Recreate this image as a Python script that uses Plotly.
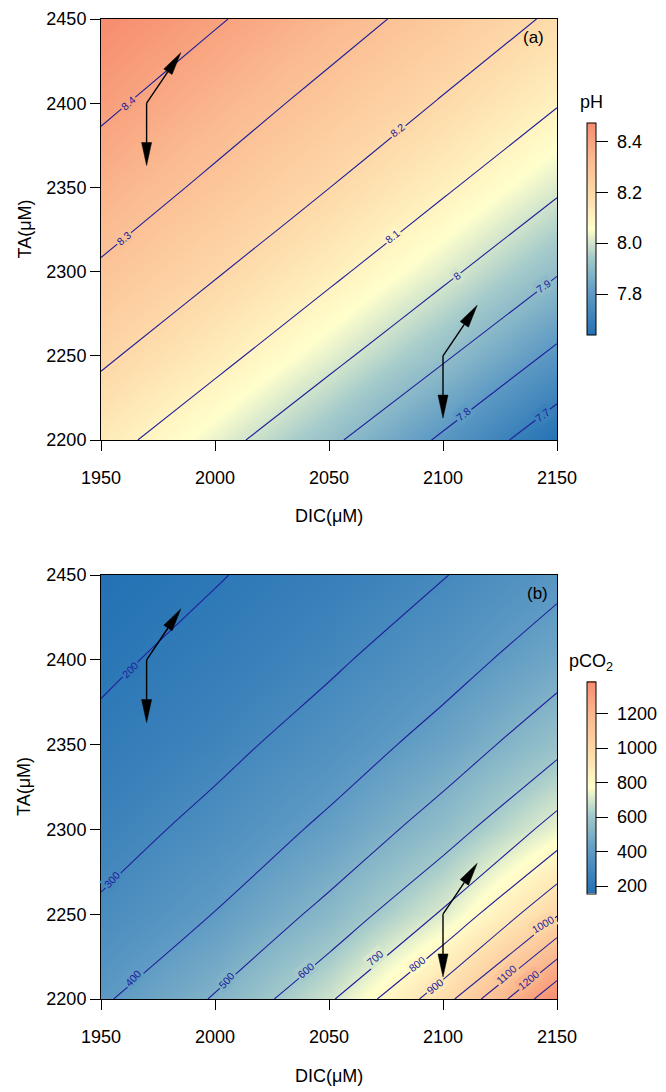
import math
import plotly.graph_objects as go

# ---------------- data ----------------
dic = [1950, 2000, 2050, 2100, 2150]
ta = [2200, 2250, 2300, 2350, 2400, 2450]

# pH, one row per TA value (rows follow `ta`, columns follow `dic`)
ph = [
    [8.133, 8.031, 7.917, 7.787, 7.638],
    [8.215, 8.126, 8.025, 7.912, 7.782],
    [8.289, 8.208, 8.119, 8.019, 7.907],
    [8.355, 8.281, 8.201, 8.112, 8.013],
    [8.417, 8.346, 8.272, 8.193, 8.105],
    [8.473, 8.408, 8.338, 8.264, 8.186],
]

# pCO2, one row per TA value
pco2 = [
    [386.5, 507.5, 685.3, 955.7, 1385.7],
    [313.7, 402.7, 528.7, 711.2, 990.7],
    [261.0, 328.6, 420.4, 549.7, 737.0],
    [218.7, 273.1, 343.3, 437.9, 570.5],
    [184.3, 230.3, 284.9, 357.8, 455.3],
    [157.5, 194.3, 241.6, 296.2, 371.9],
]

ph_levels = [7.7, 7.8, 7.9, 8.0, 8.1, 8.2, 8.3, 8.4]
pco2_levels = [200, 300, 400, 500, 600, 700, 800, 900, 1000, 1100, 1200, 1300]

# contour label positions along the DIC axis (level -> DIC of label centre)
ph_label_dic = {8.4: 1962, 8.3: 1960, 8.2: 2080, 8.1: 2078, 8.0: 2106,
                7.9: 2144, 7.8: 2109, 7.7: 2143.5}
pco2_label_dic = {200: 1962.5, 300: 1955, 400: 1964, 500: 2005, 600: 2040,
                  700: 2070, 800: 2088.5, 900: 2096.5, 1000: 2144,
                  1100: 2128, 1200: 2137.5}

x_ticks = [1950, 2000, 2050, 2100, 2150]
y_ticks = [2200, 2250, 2300, 2350, 2400, 2450]
ph_cb_ticks = [7.8, 8.0, 8.2, 8.4]
ph_cb_text = ["7.8", "8.0", "8.2", "8.4"]
pco2_cb_ticks = [200, 400, 600, 800, 1000, 1200]
pco2_cb_text = ["200", "400", "600", "800", "1000", "1200"]

# arrows: (start DIC, start TA, end DIC, end TA)
arrows = [
    (1970, 2400, 1970, 2363),
    (1970, 2400, 1985, 2430),
    (2100, 2250, 2100, 2213),
    (2100, 2250, 2115, 2280),
]

# ---------------- layout geometry ----------------
# the page body adds an 8 px margin, so the figure is placed at (8, 8)
OFF = 8
W, H = 666 - OFF, 1092 - OFF
PX_L, PX_R = 101 - OFF, 557 - OFF
A_TOP, A_BOT = 19 - OFF, 440 - OFF
B_TOP, B_BOT = 575 - OFF, 999 - OFF
CB_X = 586.7
CB_LABEL_X = 615
FONT = "Liberation Sans, Arial, Helvetica, sans-serif"
LINE_COL = "#20209a"

cs_stops = [
    (0.0, (35, 113, 180)),
    (0.2, (95, 155, 196)),
    (0.37, (165, 203, 203)),
    (0.5, (255, 255, 204)),
    (0.65, (254, 221, 172)),
    (0.82, (251, 188, 146)),
    (1.0, (246, 140, 110)),
]
colorscale = [[p, "rgb(%d,%d,%d)" % c] for p, c in cs_stops]


def cs_color(t):
    t = min(1.0, max(0.0, t))
    for (p0, c0), (p1, c1) in zip(cs_stops[:-1], cs_stops[1:]):
        if p0 <= t <= p1:
            f = (t - p0) / (p1 - p0)
            return "rgb(%d,%d,%d)" % tuple(round(a + (b - a) * f) for a, b in zip(c0, c1))
    return "rgb(%d,%d,%d)" % cs_stops[-1][1]


def bilin(z, D, T):
    i = max(0, min(len(dic) - 2, sum(1 for d in dic if d <= D) - 1))
    j = max(0, min(len(ta) - 2, sum(1 for t in ta if t <= T) - 1))
    fx = (D - dic[i]) / (dic[i + 1] - dic[i])
    fy = (T - ta[j]) / (ta[j + 1] - ta[j])
    return ((1 - fx) * (1 - fy) * z[j][i] + fx * (1 - fy) * z[j][i + 1]
            + (1 - fx) * fy * z[j + 1][i] + fx * fy * z[j + 1][i + 1])


def find_ta(z, D, level):
    lo, hi = ta[0], ta[-1]
    flo = bilin(z, D, lo) - level
    for _ in range(60):
        mid = (lo + hi) / 2
        fm = bilin(z, D, mid) - level
        if (fm > 0) == (flo > 0):
            lo, flo = mid, fm
        else:
            hi = mid
    return (lo + hi) / 2


def ann(text, x, y, size=18, angle=0, xanchor="center"):
    # x, y are window pixel positions
    return dict(text=text, x=(x - OFF) / W, y=1 - (y - OFF) / H,
                xref="paper", yref="paper",
                showarrow=False, textangle=angle, xanchor=xanchor, yanchor="middle",
                font=dict(family=FONT, size=size, color="black"))


fig = go.Figure()
annotations = []


def cbar(top, bot, tickvals):
    return dict(
        x=(CB_X - OFF) / W, xanchor="left", xpad=0,
        y=1 - ((top + bot) / 2 - OFF) / H, yanchor="middle", ypad=0,
        len=bot - top, lenmode="pixels",
        thickness=9, thicknessmode="pixels",
        outlinewidth=1, outlinecolor="black",
        ticks="outside", ticklen=12, tickwidth=1, tickcolor="black",
        showticklabels=False, tickvals=tickvals,
    )


panels = [
    dict(z=ph, levels=ph_levels, labels=ph_label_dic, xa="x", ya="y",
         top=A_TOP, bot=A_BOT, cbt=123.3, cbb=335,
         cbv=ph_cb_ticks, cbtxt=ph_cb_text),
    dict(z=pco2, levels=pco2_levels, labels=pco2_label_dic, xa="x2", ya="y2",
         top=B_TOP, bot=B_BOT, cbt=681.7, cbb=893.3,
         cbv=pco2_cb_ticks, cbtxt=pco2_cb_text),
]

sx = (PX_R - PX_L) / (x_ticks[-1] - x_ticks[0])
HEAD_LEN, HEAD_HALF = 23, 5

for p in panels:
    z = p["z"]
    zmin = min(min(r) for r in z)
    zmax = max(max(r) for r in z)
    lv = p["levels"]
    fig.add_trace(go.Heatmap(
        x=dic, y=ta, z=z, zsmooth="best", colorscale=colorscale,
        zmin=zmin, zmax=zmax, colorbar=cbar(p["cbt"], p["cbb"], p["cbv"]),
        xaxis=p["xa"], yaxis=p["ya"], hoverinfo="skip"))
    fig.add_trace(go.Contour(
        x=dic, y=ta, z=z, showscale=False, hoverinfo="skip",
        contours=dict(start=lv[0], end=lv[-1], size=lv[1] - lv[0],
                      coloring="none", showlabels=False),
        line=dict(color=LINE_COL, width=1.1),
        xaxis=p["xa"], yaxis=p["ya"]))

    # colour bar tick labels
    for v, t in zip(p["cbv"], p["cbtxt"]):
        ypx = p["cbb"] - (v - zmin) / (zmax - zmin) * (p["cbb"] - p["cbt"])
        annotations.append(ann(t, CB_LABEL_X, ypx, 18, 0, "left"))

    sy = (p["bot"] - p["top"]) / (y_ticks[-1] - y_ticks[0])
    # contour labels, drawn on the line with a background of the level's colour
    for level, D in p["labels"].items():
        T = find_ta(z, D, level)
        gd = bilin(z, D + 0.5, T) - bilin(z, D - 0.5, T)
        gt = bilin(z, D, T + 0.5) - bilin(z, D, T - 0.5)
        tdx, tdy = gt * sx, -gd * sy
        angle = -math.degrees(math.atan(tdy / tdx))
        annotations.append(dict(
            text="%g" % level, x=D, y=T, xref=p["xa"], yref=p["ya"],
            showarrow=False, textangle=angle,
            bgcolor=cs_color((level - zmin) / (zmax - zmin)),
            borderpad=1, xanchor="center", yanchor="middle",
            font=dict(family=FONT, size=10.5, color=LINE_COL)))

    # arrows
    for (x0, y0, x1, y1) in arrows:
        dx, dy = (x1 - x0) * sx, (y1 - y0) * sy
        L = math.hypot(dx, dy)
        ux, uy = dx / L, dy / L
        bx, by = x1 * sx - ux * HEAD_LEN, y1 * sy - uy * HEAD_LEN
        fig.add_trace(go.Scatter(
            x=[x0, bx / sx], y=[y0, by / sy], mode="lines",
            line=dict(color="black", width=1.4),
            xaxis=p["xa"], yaxis=p["ya"], hoverinfo="skip", showlegend=False))
        hx = [x1, (bx - uy * HEAD_HALF) / sx, (bx + uy * HEAD_HALF) / sx, x1]
        hy = [y1, (by + ux * HEAD_HALF) / sy, (by - ux * HEAD_HALF) / sy, y1]
        fig.add_trace(go.Scatter(
            x=hx, y=hy, mode="lines", fill="toself", fillcolor="black",
            line=dict(color="black", width=0.5),
            xaxis=p["xa"], yaxis=p["ya"], hoverinfo="skip", showlegend=False))


def xaxis(anchor):
    return dict(domain=[PX_L / W, PX_R / W], range=[x_ticks[0], x_ticks[-1]],
                anchor=anchor, tickvals=x_ticks, ticks="outside", ticklen=10,
                tickwidth=1, tickcolor="black", showline=True, mirror=True,
                linecolor="black", linewidth=1, showgrid=False, zeroline=False,
                automargin=False, ticklabelstandoff=11,
                tickfont=dict(family=FONT, size=18, color="black"))


def yaxis(anchor, top, bot):
    return dict(domain=[1 - bot / H, 1 - top / H], range=[y_ticks[0], y_ticks[-1]],
                anchor=anchor, tickvals=y_ticks, ticks="outside", ticklen=10,
                tickwidth=1, tickcolor="black", showline=True, mirror=True,
                linecolor="black", linewidth=1, showgrid=False, zeroline=False,
                automargin=False,
                tickfont=dict(family=FONT, size=18, color="black"))


annotations += [
    ann("(a)", 533, 37, 17),
    ann("(b)", 537, 593, 17),
    ann("TA(μM)", 24, (19 + 440) / 2, 18, -90),
    ann("TA(μM)", 24, (575 + 999) / 2, 18, -90),
    ann("DIC(μM)", 329, 516.5, 18),
    ann("DIC(μM)", 329, 1075.5, 18),
    ann("pH", 591, 101.7, 18),
    ann("pCO<sub>2</sub>", 591, 662, 18),
]

fig.update_layout(
    width=W, height=H, margin=dict(l=0, r=0, t=0, b=0, autoexpand=False),
    paper_bgcolor="white", plot_bgcolor="white", showlegend=False,
    xaxis=xaxis("y"), yaxis=yaxis("x", A_TOP, A_BOT),
    xaxis2=xaxis("y2"), yaxis2=yaxis("x2", B_TOP, B_BOT),
    annotations=annotations,
)

fig.write_html("out.html")
